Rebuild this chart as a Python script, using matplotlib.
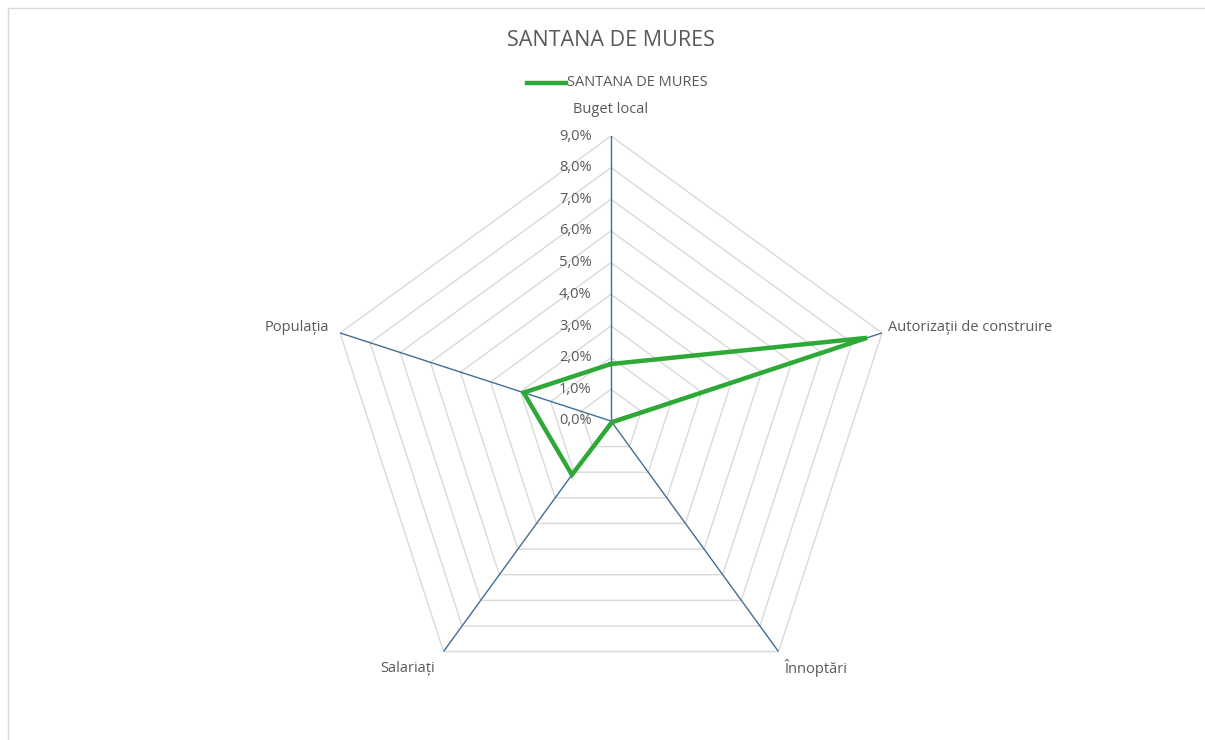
import numpy as np
import matplotlib.pyplot as plt
from matplotlib.patches import Rectangle

plt.rcParams['font.family'] = ['Open Sans', 'DejaVu Sans']

categories = ['Buget local', 'Autorizații de construire', 'Înnoptări', 'Salariați', 'Populația']
values = [1.8, 8.5, 0.05, 2.1, 2.9]
tick_levels = [0, 1, 2, 3, 4, 5, 6, 7, 8, 9]
tick_labels = ['0,0%', '1,0%', '2,0%', '3,0%', '4,0%', '5,0%', '6,0%', '7,0%', '8,0%', '9,0%']
series_name = 'SANTANA DE MURES'

text_col = '#595959'
grid_col = '#d9d9d9'
axis_col = '#3f6f97'
line_col = '#2ea836'

W, H = 1205, 740
fig = plt.figure(figsize=(W / 100, H / 100), dpi=100)
fig.patch.set_facecolor('white')
# chart border (only top and left edges are visible in the crop)
fig.patches.append(Rectangle((8 / W, -0.1), 1.2, (H - 8) / H + 0.1, transform=fig.transFigure,
                             fill=False, edgecolor='#d9d9d9', linewidth=1))

cx, cy, R = 611, 421, 285
ax = fig.add_axes([(cx - R) / W, (H - cy - R) / H, 2 * R / W, 2 * R / H], projection='polar')
ax.set_theta_offset(np.pi / 2)
ax.set_theta_direction(-1)
ax.set_ylim(0, 9)
ax.axis('off')

n = len(categories)
angles = np.linspace(0, 2 * np.pi, n, endpoint=False)
closed = np.append(angles, angles[0])

# polygon grid
for lv in tick_levels[1:]:
    ax.plot(closed, [lv] * (n + 1), color=grid_col, linewidth=1, zorder=1)
for a in angles:
    ax.plot([a, a], [0, 9], color=axis_col, linewidth=1, zorder=2)

# series
ax.plot(closed, values + [values[0]], color=line_col, linewidth=3.2, zorder=3,
        solid_joinstyle='miter')

# radial tick labels
for lv, lab in zip(tick_levels, tick_labels):
    ax.annotate(lab, xy=(0, lv), xytext=(-14, 0), textcoords='offset points',
                ha='right', va='center', fontsize=10.5, color=text_col)

# category labels
offsets = [((0, 14), 'center', 'bottom'),
           ((4, 4), 'left', 'center'),
           ((27, -12), 'center', 'center'),
           ((-26, -12), 'center', 'center'),
           ((-8, 4), 'right', 'center')]
for a, cat, (off, ha, va) in zip(angles, categories, offsets):
    ax.annotate(cat, xy=(a, 9), xytext=off, textcoords='offset points',
                ha=ha, va=va, fontsize=10.5, color=text_col)

fig.text(cx / W, (H - 40) / H, series_name, ha='center', va='center', fontsize=15.5, color=text_col)

# legend
fig.add_artist(plt.Line2D([527 / W, 566 / W], [(H - 83) / H] * 2, color=line_col, linewidth=3.2))
fig.text(567 / W, (H - 83) / H, series_name, ha='left', va='center', fontsize=10.5, color=text_col)

fig.savefig('out.png', dpi=100)
